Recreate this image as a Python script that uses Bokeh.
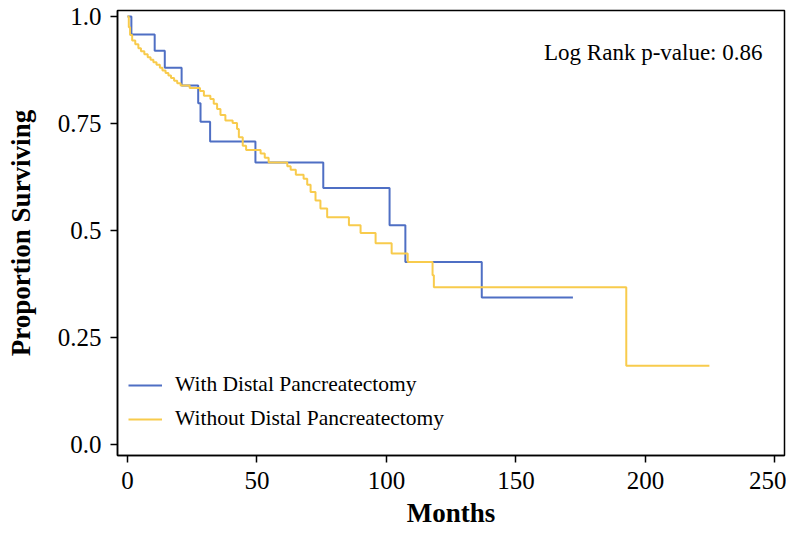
from bokeh.plotting import figure
from bokeh.models import FixedTicker, Legend, LegendItem, Label, Range1d
from bokeh.embed import file_html
from bokeh.resources import INLINE

# With Distal Pancreatectomy (Kaplan-Meier steps)
with_time = [0, 1.5, 10.5, 14.4, 20.9, 27.3, 28.2, 31.9, 49.4, 75.6, 101.2, 107.3, 136.8, 172.0]
with_surv = [1.0, 0.958, 0.920, 0.880, 0.839, 0.797, 0.754, 0.708, 0.659, 0.599, 0.512, 0.426, 0.343, 0.343]

# Without Distal Pancreatectomy
without_time = [0, 0.5, 1.0, 1.8, 3.0, 4.2, 5.2, 6.5, 7.8, 8.9, 10.0, 11.2, 12.5, 13.5,
                14.7, 15.8, 16.8, 18.0, 19.2, 20.5, 24.0, 28.0, 29.5, 32.0, 33.3, 34.6,
                35.9, 37.8, 40.6, 42.3, 43.0, 44.5, 45.8, 51.4, 53.0, 54.5, 61.7, 63.0,
                65.0, 68.0, 69.4, 70.7, 72.6, 74.5, 77.1, 85.5, 90.0, 95.8, 102.0, 108.2,
                117.8, 118.3, 192.6, 224.7]
without_surv = [1.0, 0.975, 0.957, 0.944, 0.935, 0.926, 0.919, 0.912, 0.905, 0.899, 0.893,
                0.887, 0.880, 0.874, 0.868, 0.862, 0.856, 0.850, 0.844, 0.839, 0.833, 0.826,
                0.815, 0.807, 0.796, 0.784, 0.770, 0.757, 0.751, 0.737, 0.718, 0.698, 0.688,
                0.680, 0.670, 0.659, 0.650, 0.642, 0.630, 0.621, 0.607, 0.590, 0.570, 0.551,
                0.531, 0.512, 0.494, 0.470, 0.446, 0.426, 0.395, 0.367, 0.184, 0.184]

x_ticks = [0, 50, 100, 150, 200, 250]
y_ticks = [0.0, 0.25, 0.5, 0.75, 1.0]
y_tick_labels = {0.0: "0.0", 0.25: "0.25", 0.5: "0.5", 0.75: "0.75", 1.0: "1.0"}
series_names = ["With Distal Pancreatectomy", "Without Distal Pancreatectomy"]
p_value_text = "Log Rank p-value: 0.86"

BLUE = "#4F6FC4"
YELLOW = "#F8CB4C"
FONT = "Liberation Serif"

p = figure(width=786, height=532, output_backend="svg", toolbar_location=None,
           x_range=Range1d(-3.86, 253.7), y_range=Range1d(-0.026, 1.014),
           min_border_left=117, min_border_right=2, min_border_top=10, min_border_bottom=77)
p.background_fill_color = "white"
p.border_fill_color = "white"
p.outline_line_color = "black"
p.outline_line_width = 1.5
p.xgrid.visible = False
p.ygrid.visible = False

r1 = p.step(with_time, with_surv, mode="after", line_color=BLUE, line_width=2)
r2 = p.step(without_time, without_surv, mode="after", line_color=YELLOW, line_width=2)

for ax in (p.xaxis[0], p.yaxis[0]):
    ax.axis_line_color = "black"
    ax.axis_line_width = 1.5
    ax.major_tick_line_color = "black"
    ax.major_tick_line_width = 1.5
    ax.major_tick_out = 7
    ax.major_tick_in = 0
    ax.minor_tick_line_color = None
    ax.major_label_text_font = FONT
    ax.major_label_text_font_size = "25px"
    ax.major_label_text_color = "black"
    ax.axis_label_text_font = FONT
    ax.axis_label_text_font_style = "bold"
    ax.axis_label_text_font_size = "27px"
    ax.axis_label_text_color = "black"

p.xaxis.ticker = FixedTicker(ticks=x_ticks)
p.yaxis.ticker = FixedTicker(ticks=y_ticks)
p.yaxis.major_label_overrides = y_tick_labels
p.xaxis.axis_label = "Months"
p.yaxis.axis_label = "Proportion Surviving"
p.xaxis.major_label_standoff = 9
p.yaxis.major_label_standoff = 9
p.xaxis.axis_label_standoff = 6
p.yaxis.axis_label_standoff = 19

legend = Legend(items=[LegendItem(label=series_names[0], renderers=[r1]),
                       LegendItem(label=series_names[1], renderers=[r2])],
                location=(11, 24), padding=0, margin=0, spacing=9,
                glyph_width=34, glyph_height=20, label_height=20, label_standoff=13,
                label_text_font=FONT, label_text_font_size="21.5px",
                label_text_color="black",
                border_line_color=None, background_fill_alpha=0)
p.add_layout(legend)

label = Label(x=245.2, y=0.917, text=p_value_text, text_align="right",
              text_baseline="middle", text_font=FONT, text_font_size="23px",
              text_color="black")
p.add_layout(label)

open("out.html", "w").write(file_html(p, INLINE))
